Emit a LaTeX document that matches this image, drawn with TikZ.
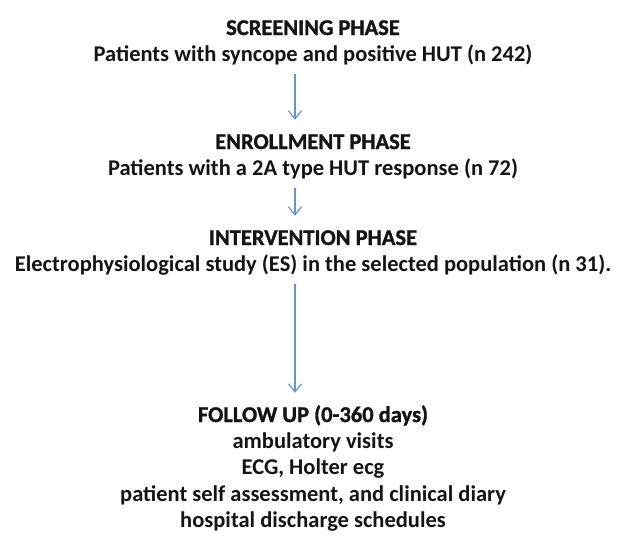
\documentclass[tikz,border=0pt]{standalone}
\usepackage{fontspec}
\setmainfont{Carlito}
\newfontfamily\headfont[FakeBold=1.3]{Carlito Bold}
\usepackage{tikz}
\usetikzlibrary{positioning,arrows.meta}
\definecolor{arrowblue}{RGB}{100,150,205}
\definecolor{inkgrey}{RGB}{20,20,20}
\tikzset{node distance=4pt, x=1pt, y=1pt,
  txt/.style={font=\fontsize{22.5}{26}\selectfont\bfseries, text=inkgrey, text height=16pt, text depth=6pt, inner sep=0pt},
  head/.style={txt, font=\fontsize{22.5}{26}\selectfont\headfont},
  flow/.style={draw=arrowblue, line width=1.2pt, shorten <=6pt, shorten >=13pt,
    -{Straight Barb[length=8pt,width=13pt]}}}

\begin{document}
\begin{tikzpicture}
  \useasboundingbox (0,0) rectangle (620,-536);
  \coordinate (ax) at (295,0);

  % screening
  \node[head] (screenhead) at (313,-30) {SCREENING PHASE};
  \node[txt] (screentext) [below=of screenhead] {Patients with syncope and positive HUT (n 242)};

  % enrollment
  \node[head] (enrollhead) at (313,-144) {ENROLLMENT PHASE};
  \node[txt] (enrolltext) [below=of enrollhead] {Patients with a 2A type HUT response (n 72)};

  % intervention
  \node[head] (interhead) at (313,-240) {INTERVENTION PHASE};
  \node[txt] (intertext) [below=of interhead] {Electrophysiological study (ES) in the selected population (n 31).};

  % follow up
  \node[head] (followhead) at (313,-417) {FOLLOW UP (0-360 days)};
  \node[txt] (visits) [below=of followhead] {ambulatory visits};
  \node[txt] (ecg) [below=of visits] {ECG, Holter ecg};
  \node[txt] (diary) [below=of ecg] {patient self assessment, and clinical diary};
  \node[txt] (discharge) [below=of diary] {hospital discharge schedules};

  \draw[flow] (screentext.south -| ax) -- (enrollhead.north -| ax);
  \draw[flow] (enrolltext.south -| ax) -- (interhead.north -| ax);
  \draw[flow] (intertext.south -| ax) -- (followhead.north -| ax);

\end{tikzpicture}
\end{document}
